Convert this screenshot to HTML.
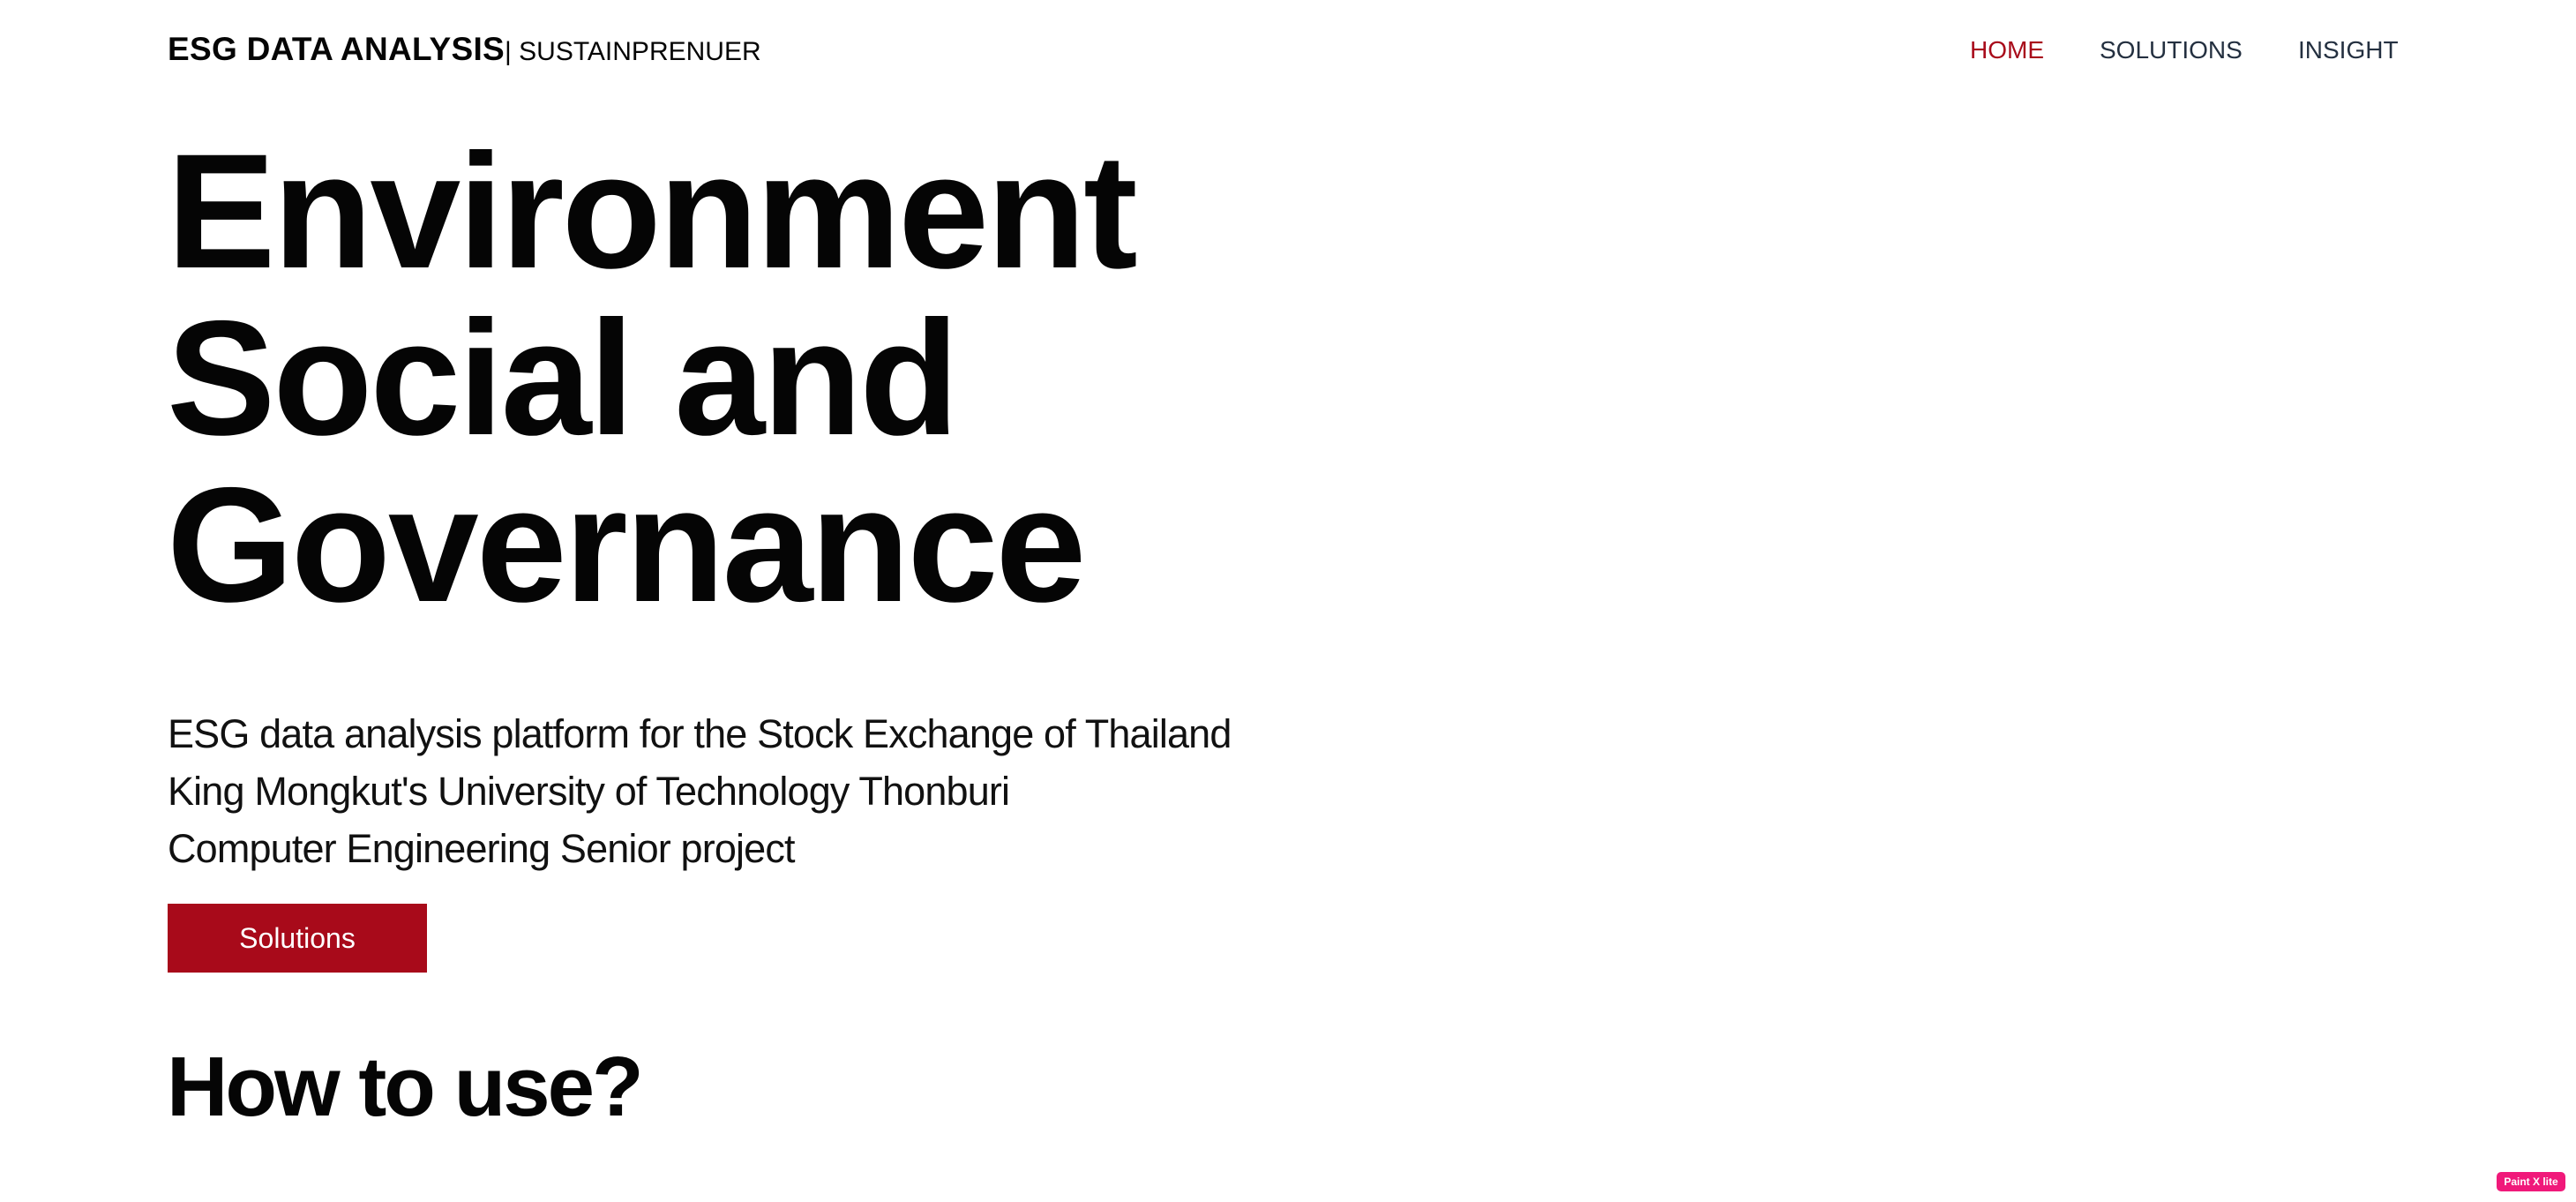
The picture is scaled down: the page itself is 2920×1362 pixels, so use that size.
<!DOCTYPE html>
<html><head><meta charset="utf-8"><style>
html,body{margin:0;padding:0;background:#fff;width:2920px;height:1362px;overflow:hidden;position:relative;font-family:"Liberation Sans",sans-serif;color:#050505}
.a{position:absolute;white-space:nowrap}
</style></head><body>
<div class="a" style="left:190px;top:31px;font-size:37px;line-height:50px"><b style="letter-spacing:0.3px">ESG DATA ANALYSIS</b><span style="font-size:30px">| SUSTAINPRENUER</span></div>
<div class="a" style="left:2233px;top:32px;font-size:28px;line-height:50px;color:#a80a1a">HOME</div>
<div class="a" style="left:2380px;top:32px;font-size:28px;line-height:50px;color:#243040">SOLUTIONS</div>
<div class="a" style="left:2605px;top:32px;font-size:28px;line-height:50px;color:#243040">INSIGHT</div>
<div class="a" style="left:189px;top:146px;font-size:185px;line-height:189px;font-weight:bold;letter-spacing:-3px">Environment<br>Social and<br>Governance</div>
<div class="a" style="left:190px;top:799px;font-size:45px;line-height:65px;color:#111;letter-spacing:-0.85px">ESG data analysis platform for the Stock Exchange of Thailand<br>King Mongkut's University of Technology Thonburi<br>Computer Engineering Senior project</div>
<div class="a" style="left:190px;top:1024px;width:294px;height:78px;background:#a80a1a;color:#fff;font-size:32px;line-height:78px;text-align:center">Solutions</div>
<div class="a" style="left:189px;top:1172px;font-size:96px;line-height:120px;font-weight:bold;letter-spacing:-3px">How to use?</div>
<div class="a" style="left:2830px;top:1328px;width:78px;height:22px;background:#f0197a;border-radius:5px;color:#fff;font-size:12px;line-height:22px;text-align:center;font-weight:bold">Paint X lite</div>
</body></html>
